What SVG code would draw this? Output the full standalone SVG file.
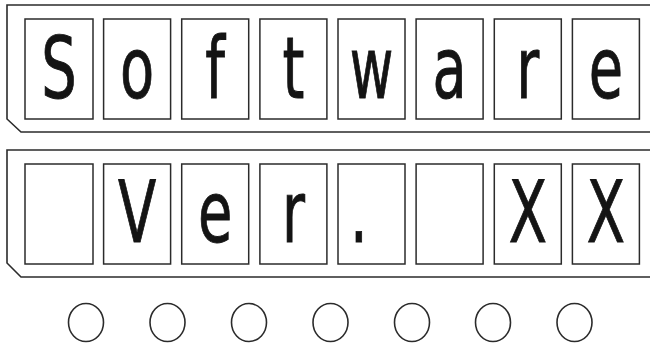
<svg xmlns="http://www.w3.org/2000/svg" width="650" height="347" viewBox="0 0 650 347">
<style>
.panel{fill:none;stroke:#2b2b2b;stroke-width:1.6}
.cell{fill:#fff;stroke:#2b2b2b;stroke-width:1.5}
.ch{font-family:"DejaVu Sans",sans-serif;font-size:86px;fill:#141414;stroke:#141414;stroke-width:1;text-anchor:middle}
.led{fill:#fff;stroke:#2b2b2b;stroke-width:1.6}
</style>
<rect width="650" height="347" fill="#fff"/>
<g id="panel-top">
<path class="panel" d="M652 5 H7 V119 L21 132 H652"/>
</g>
<g id="panel-bottom">
<path class="panel" d="M652 150 H7 V263 L21 277 H652"/>
</g>
<g id="row1">
<g id="r1c1"><rect class="cell" x="25" y="19" width="68" height="100"/><text class="ch" transform="translate(59,98) scale(0.65,1)">S</text></g>
<g id="r1c2"><rect class="cell" x="103.6" y="19" width="67" height="100"/><text class="ch" transform="translate(137.1,98) scale(0.65,1)">o</text></g>
<g id="r1c3"><rect class="cell" x="181.7" y="19" width="67" height="100"/><text class="ch" transform="translate(215.2,98) scale(0.65,1)">f</text></g>
<g id="r1c4"><rect class="cell" x="259.9" y="19" width="67" height="100"/><text class="ch" transform="translate(293.4,98) scale(0.65,1)">t</text></g>
<g id="r1c5"><rect class="cell" x="338" y="19" width="67" height="100"/><text class="ch" transform="translate(371.5,98) scale(0.62,1)">w</text></g>
<g id="r1c6"><rect class="cell" x="416.1" y="19" width="67" height="100"/><text class="ch" transform="translate(449.6,98) scale(0.65,1)">a</text></g>
<g id="r1c7"><rect class="cell" x="494.3" y="19" width="67" height="100"/><text class="ch" transform="translate(527.8,98) scale(0.65,1)">r</text></g>
<g id="r1c8"><rect class="cell" x="572.4" y="19" width="67" height="100"/><text class="ch" transform="translate(605.9,98) scale(0.65,1)">e</text></g>
</g>
<g id="row2">
<g id="r2c1"><rect class="cell" x="25" y="164" width="68" height="100"/></g>
<g id="r2c2"><rect class="cell" x="103.6" y="164" width="67" height="100"/><text class="ch" transform="translate(137.1,242) scale(0.65,1)">V</text></g>
<g id="r2c3"><rect class="cell" x="181.7" y="164" width="67" height="100"/><text class="ch" transform="translate(215.2,242) scale(0.65,1)">e</text></g>
<g id="r2c4"><rect class="cell" x="259.9" y="164" width="67" height="100"/><text class="ch" transform="translate(293.4,242) scale(0.65,1)">r</text></g>
<g id="r2c5"><rect class="cell" x="338" y="164" width="67" height="100"/><text class="ch" transform="translate(359,242) scale(0.65,1)">.</text></g>
<g id="r2c6"><rect class="cell" x="416.1" y="164" width="67" height="100"/></g>
<g id="r2c7"><rect class="cell" x="494.3" y="164" width="67" height="100"/><text class="ch" transform="translate(527.8,242) scale(0.65,1)">X</text></g>
<g id="r2c8"><rect class="cell" x="572.4" y="164" width="67" height="100"/><text class="ch" transform="translate(605.9,242) scale(0.65,1)">X</text></g>
</g>
<g id="leds">
<ellipse id="led1" class="led" cx="86" cy="322.5" rx="17.5" ry="19"/>
<ellipse id="led2" class="led" cx="167.5" cy="322.5" rx="17.5" ry="19"/>
<ellipse id="led3" class="led" cx="249" cy="322.5" rx="17.5" ry="19"/>
<ellipse id="led4" class="led" cx="330.5" cy="322.5" rx="17.5" ry="19"/>
<ellipse id="led5" class="led" cx="412" cy="322.5" rx="17.5" ry="19"/>
<ellipse id="led6" class="led" cx="493" cy="322.5" rx="17.5" ry="19"/>
<ellipse id="led7" class="led" cx="574.5" cy="322.5" rx="17.5" ry="19"/>
</g>
<g id="connectors"/>
</svg>
